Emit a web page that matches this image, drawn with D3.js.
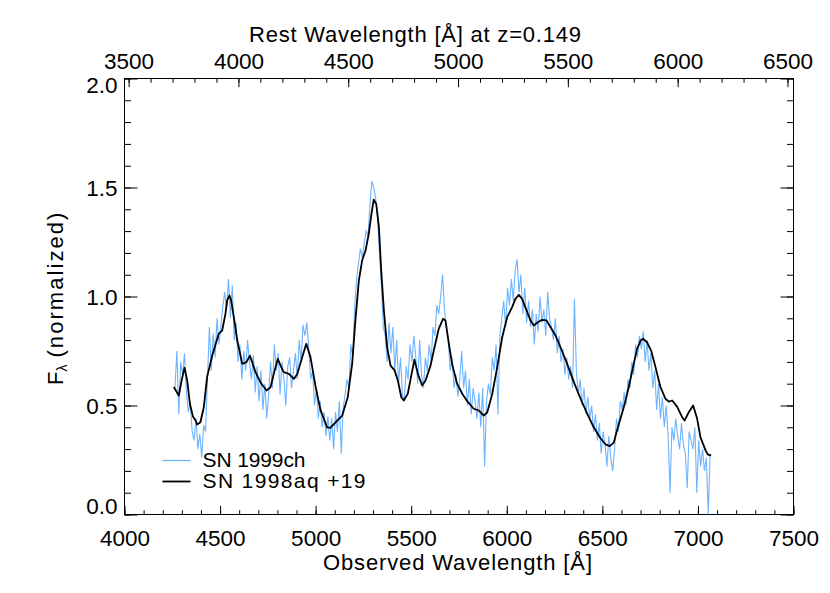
<!DOCTYPE html>
<meta charset="utf-8">
<script src="https://d3js.org/d3.v7.min.js"></script>
<style>
  body { margin: 0; background: #fff; }
  text { font-family: "Liberation Sans", Arial, Helvetica, sans-serif; }
</style>
<div id="my_dataviz"></div>
<script>

// redshift used for the rest-frame axis
var z = 0.149;

// tick values
var xTicks = [4000, 4500, 5000, 5500, 6000, 6500, 7000, 7500];
var restTicks = [3500, 4000, 4500, 5000, 5500, 6000, 6500];
var yTicks = [0.0, 0.5, 1.0, 1.5, 2.0];

// SN 1999ch (observed spectrum): first pixel + step in Angstrom, then the flux
var start99ch = 4264, step99ch = 10;
var flux99ch = [
  0.58, 0.75, 0.46, 0.70, 0.64, 0.74, 0.56, 0.47, 0.52, 0.38,
  0.34, 0.44, 0.30, 0.37, 0.26, 0.41, 0.38, 0.62, 0.86, 0.66,
  0.83, 0.72, 0.90, 0.78, 0.86, 0.95, 1.02, 0.94, 1.08, 0.90,
  1.05, 0.80, 0.88, 0.70, 0.78, 0.62, 0.75, 0.66, 0.80, 0.70,
  0.62, 0.73, 0.56, 0.68, 0.52, 0.66, 0.48, 0.60, 0.44, 0.55,
  0.70, 0.58, 0.78, 0.66, 0.74, 0.55, 0.70, 0.62, 0.50, 0.68,
  0.72, 0.58, 0.66, 0.74, 0.62, 0.80, 0.70, 0.87, 0.82, 0.88,
  0.76, 0.62, 0.66, 0.50, 0.58, 0.44, 0.52, 0.40, 0.47, 0.36,
  0.45, 0.34, 0.44, 0.30, 0.47, 0.38, 0.52, 0.28, 0.49, 0.55,
  0.62, 0.58, 0.78, 0.72, 0.95, 1.08, 1.15, 1.22, 1.18, 1.24,
  1.30, 1.28, 1.42, 1.53, 1.50, 1.45, 1.36, 1.20, 1.05, 0.86,
  0.82, 0.70, 0.88, 0.74, 0.86, 0.66, 0.80, 0.60, 0.72, 0.55,
  0.52, 0.68, 0.62, 0.78, 0.70, 0.82, 0.72, 0.60, 0.80, 0.64,
  0.58, 0.72, 0.66, 0.78, 0.70, 0.86, 0.82, 0.96, 0.92, 1.00,
  1.10, 0.94, 0.86, 0.80, 0.66, 0.72, 0.58, 0.64, 0.54, 0.62,
  0.75, 0.58, 0.66, 0.50, 0.62, 0.46, 0.58, 0.52, 0.44, 0.56,
  0.40, 0.58, 0.22, 0.52, 0.60, 0.55, 0.72, 0.66, 0.78, 0.46,
  0.82, 0.90, 0.98, 0.86, 1.04, 0.96, 1.08, 0.98, 1.12, 1.17,
  1.02, 1.10, 0.92, 1.04, 0.88, 0.98, 0.86, 0.94, 0.78, 0.92,
  0.84, 1.00, 0.88, 0.94, 0.82, 1.02, 0.90, 0.86, 0.80, 0.90,
  0.74, 0.82, 0.70, 0.76, 0.64, 0.72, 0.62, 0.68, 0.58, 0.99,
  0.66, 0.55, 0.62, 0.50, 0.58, 0.46, 0.54, 0.44, 0.50, 0.38,
  0.46, 0.34, 0.42, 0.28, 0.38, 0.32, 0.22, 0.36, 0.26, 0.20,
  0.30, 0.44, 0.38, 0.52, 0.48, 0.56, 0.50, 0.62, 0.58, 0.70,
  0.64, 0.78, 0.72, 0.82, 0.76, 0.84, 0.70, 0.80, 0.66, 0.74,
  0.58, 0.66, 0.48, 0.60, 0.44, 0.54, 0.40, 0.50, 0.36, 0.10,
  0.40, 0.34, 0.44, 0.36, 0.30, 0.42, 0.32, 0.28, 0.12, 0.38,
  0.34, 0.30, 0.40, 0.10, 0.34, 0.22, 0.30, 0.20, 0.26, 0.00,
  0.28
];

// SN 1998aq +19 (smooth comparison spectrum)
var wave98aq = [
  4258, 4284, 4300, 4314, 4328, 4342, 4358, 4372, 4380, 4397,
  4415, 4432, 4459, 4493, 4511, 4528, 4537, 4549, 4558, 4572,
  4590, 4616, 4638, 4656, 4668, 4685, 4711, 4743, 4764, 4781,
  4802, 4820, 4833, 4860, 4886, 4904, 4930, 4951, 4973, 4999,
  5025, 5060, 5078, 5113, 5139, 5168, 5191, 5208, 5226, 5243,
  5261, 5278, 5292, 5304, 5317, 5331, 5343, 5357, 5374, 5392,
  5413, 5430, 5448, 5461, 5482, 5502, 5517, 5535, 5557, 5575,
  5601, 5622, 5644, 5667, 5679, 5697, 5714, 5740, 5767, 5793,
  5827, 5854, 5880, 5898, 5924, 5950, 5976, 6002, 6028, 6045,
  6063, 6080, 6107, 6124, 6141, 6162, 6185, 6208, 6229, 6255,
  6281, 6316, 6351, 6386, 6421, 6455, 6490, 6516, 6539, 6560,
  6578, 6595, 6612, 6638, 6664, 6682, 6700, 6713, 6734, 6755,
  6778, 6804, 6830, 6848, 6865, 6891, 6918, 6930, 6952, 6975,
  6996, 7013, 7040, 7052, 7069
];
var flux98aq = [
  0.585, 0.546, 0.620, 0.673, 0.615, 0.508, 0.450, 0.431, 0.413, 0.423,
  0.492, 0.630, 0.729, 0.829, 0.844, 0.920, 0.982, 1.005, 0.982, 0.905,
  0.798, 0.691, 0.699, 0.729, 0.699, 0.653, 0.607, 0.569, 0.584, 0.645,
  0.714, 0.676, 0.653, 0.645, 0.622, 0.645, 0.722, 0.783, 0.722, 0.590,
  0.480, 0.400, 0.398, 0.431, 0.454, 0.538, 0.691, 0.890, 1.073, 1.165,
  1.211, 1.287, 1.379, 1.444, 1.425, 1.318, 1.119, 0.936, 0.767, 0.683,
  0.661, 0.615, 0.538, 0.523, 0.554, 0.645, 0.710, 0.645, 0.592, 0.615,
  0.683, 0.767, 0.852, 0.898, 0.890, 0.783, 0.691, 0.600, 0.554, 0.520,
  0.485, 0.477, 0.454, 0.469, 0.554, 0.676, 0.813, 0.905, 0.951, 0.989,
  1.008, 0.989, 0.928, 0.890, 0.867, 0.882, 0.893, 0.890, 0.859, 0.821,
  0.767, 0.691, 0.607, 0.531, 0.462, 0.400, 0.350, 0.322, 0.314, 0.330,
  0.390, 0.440, 0.492, 0.584, 0.691, 0.760, 0.798, 0.806, 0.790, 0.752,
  0.676, 0.584, 0.531, 0.518, 0.523, 0.495, 0.446, 0.431, 0.469, 0.500,
  0.439, 0.355, 0.294, 0.275, 0.271
];

var blue = "#6DB4FF";

// set the dimensions and margins of the graph
var margin = {top: 78, right: 37, bottom: 79, left: 124},
    width = 830 - margin.left - margin.right,
    height = 593 - margin.top - margin.bottom;

var svg = d3.select("#my_dataviz")
    .append("svg")
    .attr("width", width + margin.left + margin.right)
    .attr("height", height + margin.top + margin.bottom)
    .append("g")
    .attr("transform", "translate(" + (margin.left + 0.5) + "," + (margin.top + 0.5) + ")");

// scales
var x = d3.scaleLinear().domain([4000, 7500]).range([0, width]);
var xRest = d3.scaleLinear().domain([4000 / (1 + z), 7500 / (1 + z)]).range([0, width]);
var y = d3.scaleLinear().domain([0, 2]).range([height, 0]);

var yMinor = d3.range(0, 21).map(function(d) { return d / 10; });

// bottom axis (observed)
svg.append("g")
    .attr("transform", "translate(0," + height + ")")
    .call(d3.axisBottom(x).tickValues(d3.range(4000, 7501, 100)).tickSize(-4.3).tickFormat(""));
svg.append("g")
    .attr("transform", "translate(0," + height + ")")
    .call(d3.axisBottom(x).tickValues(xTicks).tickSize(-8.7).tickPadding(16).tickFormat(d3.format("d")));

// top axis (rest frame)
svg.append("g")
    .call(d3.axisTop(xRest).tickValues(d3.range(3500, 6501, 100)).tickSize(-4.3).tickFormat(""));
svg.append("g")
    .call(d3.axisTop(xRest).tickValues(restTicks).tickSize(-8.7).tickPadding(10).tickFormat(d3.format("d")));

// left axis
svg.append("g")
    .call(d3.axisLeft(y).tickValues(yMinor).tickSize(-6.5).tickFormat(""));
var yAxis = svg.append("g")
    .call(d3.axisLeft(y).tickValues(yTicks).tickSize(-13).tickPadding(7).tickFormat(d3.format(".1f")));
yAxis.selectAll("text").attr("dy", function(d) {
    if (d === 0) return "-0.04em";
    if (d === 2) return "0.62em";
    return "0.36em";
});

// right axis
svg.append("g")
    .attr("transform", "translate(" + width + ",0)")
    .call(d3.axisRight(y).tickValues(yMinor).tickSize(-6.5).tickFormat(""));
svg.append("g")
    .attr("transform", "translate(" + width + ",0)")
    .call(d3.axisRight(y).tickValues(yTicks).tickSize(-13).tickFormat(""));

// styling of all axes
svg.selectAll(".domain").remove();
svg.selectAll(".tick line").attr("stroke", "#000");
svg.selectAll(".tick text").attr("fill", "#000").style("font-size", "22.5px");

// frame
svg.append("rect")
    .attr("width", width)
    .attr("height", height)
    .attr("fill", "none")
    .attr("stroke", "#000");

// spectra
svg.append("clipPath").attr("id", "clip")
    .append("rect").attr("width", width).attr("height", height + 1);

svg.append("path")
    .datum(flux99ch)
    .attr("clip-path", "url(#clip)")
    .attr("fill", "none")
    .attr("stroke", blue)
    .attr("stroke-width", 1.1)
    .attr("d", d3.line()
        .x(function(d, i) { return x(start99ch + i * step99ch); })
        .y(function(d) { return y(d); }));

svg.append("path")
    .datum(d3.zip(wave98aq, flux98aq))
    .attr("fill", "none")
    .attr("stroke", "#000")
    .attr("stroke-width", 1.8)
    .attr("stroke-linejoin", "round")
    .attr("d", d3.line()
        .x(function(d) { return x(d[0]); })
        .y(function(d) { return y(d[1]); }));

// legend
var legend = [
    {name: "SN 1999ch", color: blue, w: 1.3, len: 103},
    {name: "SN 1998aq +19", color: "#000", w: 1.8, len: 163}
];
legend.forEach(function(l, i) {
    var ly = 382 + i * 21;
    svg.append("line")
        .attr("x1", 38).attr("x2", 66)
        .attr("y1", ly).attr("y2", ly)
        .attr("stroke", l.color)
        .attr("stroke-width", l.w);
    svg.append("text")
        .attr("x", 78)
        .attr("y", ly + 6)
        .attr("textLength", l.len)
        .attr("lengthAdjust", "spacing")
        .style("font-size", "21px")
        .text(l.name);
});

// axis titles
svg.append("text")
    .attr("x", 198.5)
    .attr("y", 491.5)
    .attr("textLength", 269)
    .attr("lengthAdjust", "spacing")
    .style("font-size", "22px")
    .text("Observed Wavelength [Å]");

svg.append("text")
    .attr("x", 124.5)
    .attr("y", -36.5)
    .attr("textLength", 332)
    .attr("lengthAdjust", "spacing")
    .style("font-size", "22px")
    .text("Rest Wavelength [Å] at z=0.149");

var ylab = svg.append("text")
    .attr("transform", "rotate(-90)")
    .attr("x", -306.5)
    .attr("y", -61.5)
    .style("font-size", "22px");
ylab.append("tspan").text("F");
ylab.append("tspan").attr("dy", 4).style("font-size", "14px").text("λ");
ylab.append("tspan").attr("dy", -4).attr("dx", 7).attr("textLength", 145)
    .attr("lengthAdjust", "spacing").text("(normalized)");

</script>
